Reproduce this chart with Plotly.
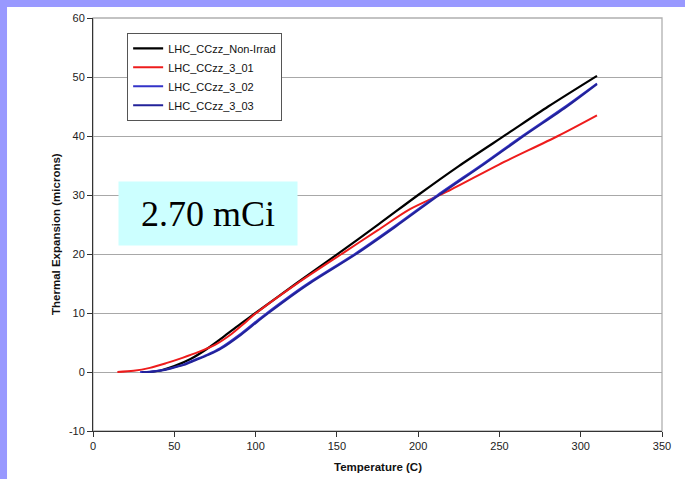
import plotly.graph_objects as go

# Temperature (C) and thermal expansion (microns)
t_nonirrad = [35, 42, 50, 60, 70, 80, 90, 100, 125, 151, 176, 200, 225, 255, 280, 310]
y_nonirrad = [0.0, 0.3, 1.0, 2.2, 3.9, 5.9, 8.0, 10.0, 15.0, 20.1, 25.1, 30.0, 34.9, 40.4, 45.0, 50.2]

t_3_01 = [15, 25, 35, 45, 55, 65, 75, 85, 92, 100, 125, 154, 175, 195, 218, 250, 286, 310]
y_3_01 = [0.0, 0.2, 0.7, 1.5, 2.4, 3.4, 4.6, 6.4, 8.0, 9.9, 14.9, 20.2, 24.0, 27.6, 30.6, 35.2, 40.0, 43.5]

t_3_02 = [29, 35, 40, 47, 55, 62, 70, 78, 90, 100, 107, 130, 161, 185, 212, 240, 264, 290, 310]
y_3_02 = [0.0, 0.05, 0.2, 0.6, 1.2, 2.0, 2.9, 4.0, 6.3, 8.5, 10.0, 14.6, 20.0, 24.6, 30.0, 35.3, 40.0, 44.9, 48.9]

t_3_03 = [30, 36, 41, 48, 56, 63, 71, 79, 91, 101, 108, 131, 162, 186, 213, 241, 265, 291, 310]
y_3_03 = [0.0, 0.05, 0.2, 0.6, 1.2, 2.0, 2.9, 4.0, 6.3, 8.5, 10.0, 14.6, 20.0, 24.6, 30.0, 35.3, 40.0, 44.9, 48.8]

series_names = ["LHC_CCzz_Non-Irrad", "LHC_CCzz_3_01", "LHC_CCzz_3_02", "LHC_CCzz_3_03"]
x_ticks = [0, 50, 100, 150, 200, 250, 300, 350]
y_ticks = [-10, 0, 10, 20, 30, 40, 50, 60]
y_tick_text = ["-10", "0", "10", "20", "30", "40", "50", "60"]

fig = go.Figure()
fig.add_trace(go.Scatter(x=t_nonirrad, y=y_nonirrad, mode="lines", name=series_names[0],
                         line=dict(color="#000000", width=2.2, shape="spline", smoothing=0.8)))
fig.add_trace(go.Scatter(x=t_3_01, y=y_3_01, mode="lines", name=series_names[1],
                         line=dict(color="#ee1c1c", width=2, shape="spline", smoothing=0.8)))
fig.add_trace(go.Scatter(x=t_3_02, y=y_3_02, mode="lines", name=series_names[2],
                         line=dict(color="#3333c8", width=2, shape="spline", smoothing=0.8)))
fig.add_trace(go.Scatter(x=t_3_03, y=y_3_03, mode="lines", name=series_names[3],
                         line=dict(color="#22229a", width=2, shape="spline", smoothing=0.8)))

font_family = "Liberation Sans, Arial, sans-serif"

fig.update_layout(
    width=685, height=479,
    margin=dict(l=93, r=23, t=16, b=48),
    paper_bgcolor="#9999ff",
    plot_bgcolor="rgba(0,0,0,0)",
    showlegend=True,
    legend=dict(x=0.06, y=0.964, xanchor="left", yanchor="top",
                bgcolor="#ffffff", bordercolor="#555555", borderwidth=1,
                font=dict(family=font_family, size=11, color="#111111"),
                tracegroupgap=0),
    xaxis=dict(range=[0, 350], tickvals=x_ticks, ticks="outside", ticklen=5,
               tickcolor="#333333", showline=True, linecolor="#333333", linewidth=1,
               showgrid=False, zeroline=False,
               tickfont=dict(family=font_family, size=11, color="#222222")),
    yaxis=dict(range=[-10, 60], tickvals=y_ticks, ticktext=y_tick_text, ticks="outside", ticklen=5,
               tickcolor="#333333", showline=True, linecolor="#333333", linewidth=1,
               showgrid=True, gridcolor="#a8a8a8", gridwidth=1.3, zeroline=False,
               tickfont=dict(family=font_family, size=11, color="#222222")),
    shapes=[
        dict(type="rect", xref="paper", yref="paper", x0=-0.1511, x1=1.2, y0=-0.3, y1=1.0265,
             fillcolor="#ffffff", line=dict(width=0), layer="below"),
        dict(type="rect", xref="paper", yref="paper", x0=0, x1=1, y0=0, y1=1,
             fillcolor="rgba(0,0,0,0)", line=dict(color="#b0b0b0", width=1.3), layer="below"),
    ],
    annotations=[
        dict(text="<b>Temperature (C)</b>", xref="paper", yref="paper", x=0.5, y=-0.088,
             xanchor="center", yanchor="middle", showarrow=False,
             font=dict(family=font_family, size=11.5, color="#111111")),
        dict(text="<b>Thermal Expansion (microns)</b>", xref="paper", yref="paper", x=-0.065, y=0.477,
             xanchor="center", yanchor="middle", showarrow=False, textangle=-90,
             font=dict(family=font_family, size=11.5, color="#111111")),
        dict(text="2.70 mCi", xref="paper", yref="paper", x=0.202, y=0.5265,
             xanchor="center", yanchor="middle", showarrow=False,
             width=176, height=61, borderpad=1, bgcolor="#ccffff",
             font=dict(family="Liberation Serif, Times New Roman, serif", size=36, color="#000000")),
    ],
)

fig.write_html("out.html")
